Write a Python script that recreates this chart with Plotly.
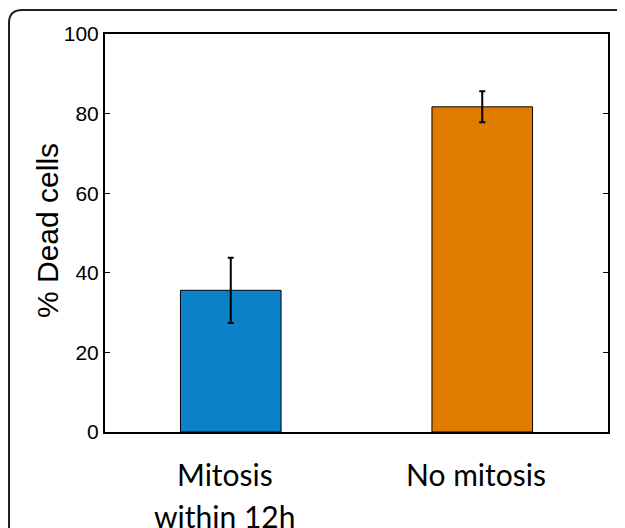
import plotly.graph_objects as go

categories = ["Mitosis within 12h", "No mitosis"]
label_line1 = ["Mitosis", "No mitosis"]
label_line2 = ["within 12h", ""]
values = [35.6, 81.7]
errors = [8.2, 3.9]
colors = ["#0b81c8", "#e07b00"]
yticks = [0, 20, 40, 60, 80, 100]
ytitle = "% Dead cells"

# page body adds an 8px offset; layout in reference pixel coords minus OFF
OFF = 8
W, H = 625 - OFF, 528 - OFF
L, T = 105 - OFF, 34 - OFF
pw, ph = 503, 398
R, B = W - L - pw, H - T - ph


def px(x):
    return (x - OFF - L) / pw


def py(y):
    return (H - B - (y - OFF)) / ph


fig = go.Figure()
fig.add_trace(go.Bar(
    x=categories, y=values, width=0.4,
    marker=dict(color=colors, line=dict(color="black", width=1)),
    error_y=dict(type="data", array=errors, visible=True, color="black",
                 thickness=2, width=3),
))

for c, a, b in zip(categories, label_line1, label_line2):
    fig.add_annotation(x=c, y=py(474), xref="x", yref="paper", text=a,
                       showarrow=False, yanchor="middle", xshift=-6,
                       font=dict(family="Lato", size=30, color="black"))
    if b:
        fig.add_annotation(x=c, y=py(516), xref="x", yref="paper", text=b,
                           showarrow=False, yanchor="middle", xshift=-6,
                           font=dict(family="Lato", size=30, color="black"))

fig.add_annotation(x=px(47), y=py(231), xref="paper", yref="paper",
                   text=ytitle, textangle=-90, showarrow=False,
                   xanchor="center", yanchor="middle",
                   font=dict(family="Liberation Sans", size=30, color="black"))

# card frame
r = 13
x0, y0 = 9, 10
path = (f"M {px(x0)} {py(560)} L {px(x0)} {py(y0 + r)} "
        f"Q {px(x0)} {py(y0)} {px(x0 + r)} {py(y0)} L {px(660)} {py(y0)}")
fig.add_shape(type="path", path=path, xref="paper", yref="paper",
              line=dict(color="#222222", width=2))

fig.update_layout(
    width=W, height=H,
    margin=dict(l=L, r=R, t=T, b=B, pad=0),
    paper_bgcolor="white", plot_bgcolor="white",
    showlegend=False,
    xaxis=dict(type="category", range=[-0.5, 1.5], showticklabels=False,
               ticks="", showline=True, linecolor="black", linewidth=2,
               mirror=True, showgrid=False, zeroline=False),
    yaxis=dict(range=[0, 100], tickvals=yticks, ticks="inside", ticklen=5,
               tickwidth=1, tickcolor="black",
               showline=True, linecolor="black", linewidth=2, mirror="ticks",
               showgrid=False, zeroline=False,
               tickfont=dict(family="Liberation Sans", size=21, color="black")),
)

fig.write_html("out.html")
